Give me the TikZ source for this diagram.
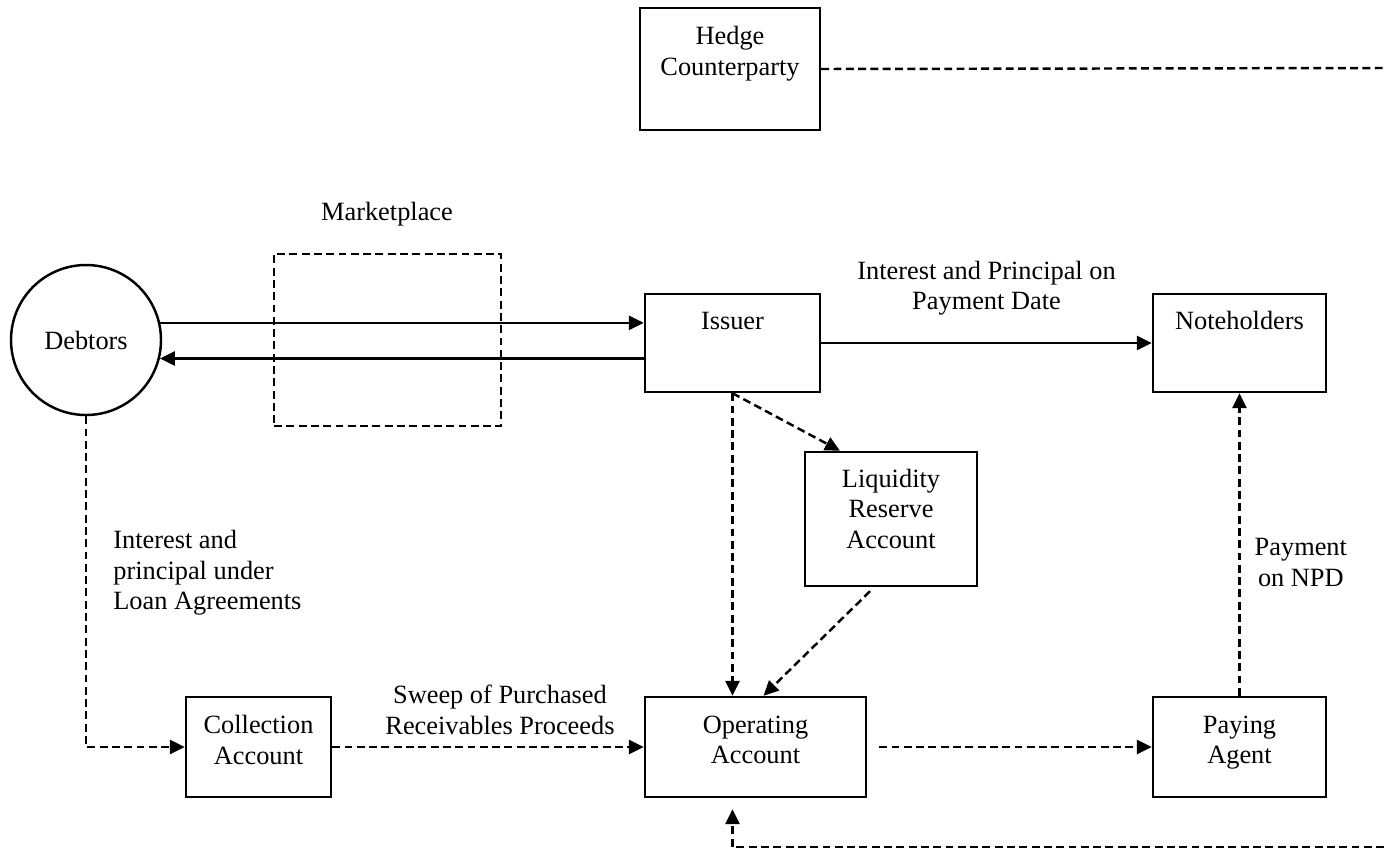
\documentclass[tikz,border=0pt]{standalone}
\usepackage{fontspec}
\setmainfont{Liberation Serif}
\usetikzlibrary{arrows.meta, positioning, calc}
\tikzset{
  base/.style   = {draw=black, line width=1.4pt, align=center,
                   font=\fontsize{15}{17.3}\selectfont},
  party/.style  = {base, rectangle, minimum height=1.96cm, text depth=0.9cm},
  acct/.style   = {base, rectangle, minimum height=2cm, text depth=0.28cm},
  debtor/.style = {base, circle, minimum size=3cm, inner sep=0pt},
  mkt/.style    = {draw=black, line width=1.3pt, dash pattern=on 4.5pt off 2.5pt,
                   minimum width=4.54cm, minimum height=3.44cm},
  lbl/.style    = {align=center, inner sep=0pt, font=\fontsize{15}{17.3}\selectfont},
  dline/.style  = {line width=1.4pt, dash pattern=on 4.5pt off 2.5pt},
  arr/.style    = {-{Triangle[length=8.5pt, width=8pt]}, line width=1.4pt},
  darr/.style   = {arr, dash pattern=on 4.5pt off 2.5pt},
}
\begin{document}
\begin{tikzpicture}
  \useasboundingbox (0,0) rectangle (27.68,-17.02);

  % Parties
  \node[party, minimum width=3.6cm, minimum height=2.44cm, text depth=0.72cm] (hedge) at (14.6,-1.38) {Hedge\\Counterparty};
  \node[debtor] (debtors) at (1.72,-6.8) {Debtors};
  \node[mkt] (mkt) at (7.75,-6.8) {};
  \node[lbl] (mktlbl) at (7.74,-4.28) {Marketplace};
  \node[party, minimum width=3.5cm] (issuer) at (14.65,-6.86) {Issuer};
  \node[party, minimum width=3.46cm] (noteholders) at (24.79,-6.86) {Noteholders};

  % Accounts
  \node[acct, minimum width=3.44cm, minimum height=2.68cm, text depth=0.42cm] (liquidity) at (17.82,-10.38) {Liquidity\\Reserve\\Account};
  \node[acct, minimum width=2.9cm] (collection) at (5.17,-14.94) {Collection\\Account};
  \node[acct, minimum width=4.42cm] (operating) at (15.11,-14.94) {Operating\\Account};
  \node[acct, minimum width=3.46cm] (paying) at (24.79,-14.94) {Paying\\Agent};

  % Free ends at the page edge
  \coordinate (hedgeend) at (27.68,-1.36);
  \coordinate (swapend)  at (27.68,-16.94);

  % Flows
  \draw[arr] (debtors.13) -- (debtors.13 -| issuer.west);
  \draw[arr] (issuer.west |- debtors.-14) -- (debtors.-14);
  \draw[arr] (issuer) -- node[lbl, yshift=1.1cm]{Interest and Principal on\\Payment Date} (noteholders);
  \draw[darr] (issuer.south) -- ($(liquidity.north)+(-1.02,0)$);
  \draw[darr] (issuer.south) -- (issuer.south |- operating.north);
  \draw[darr] ($(liquidity.south)+(-0.42,-0.08)$) -- ($(operating.north)+(0.16,0)$);
  \draw[darr] (debtors.south) |- (collection.west);
  \node[lbl, align=left, anchor=west] (loanlbl) at (2.26,-11.46) {Interest and\\principal under\\Loan Agreements};
  \draw[darr] (collection.east) -- node[lbl, xshift=0.24cm, yshift=0.74cm]{Sweep of Purchased\\Receivables Proceeds} (operating.west);
  \draw[darr, shorten <=0.24cm] (operating.east) -- (paying.west);
  \draw[darr] (paying.north) -- node[lbl, anchor=west, xshift=0.28cm, pos=0.44]{Payment\\on NPD} (noteholders.south);
  \draw[dline] (hedge.east) -- (hedgeend);
  \draw[darr, shorten >=0.22cm] (swapend) -| (operating.south -| issuer.south);
\end{tikzpicture}
\end{document}
